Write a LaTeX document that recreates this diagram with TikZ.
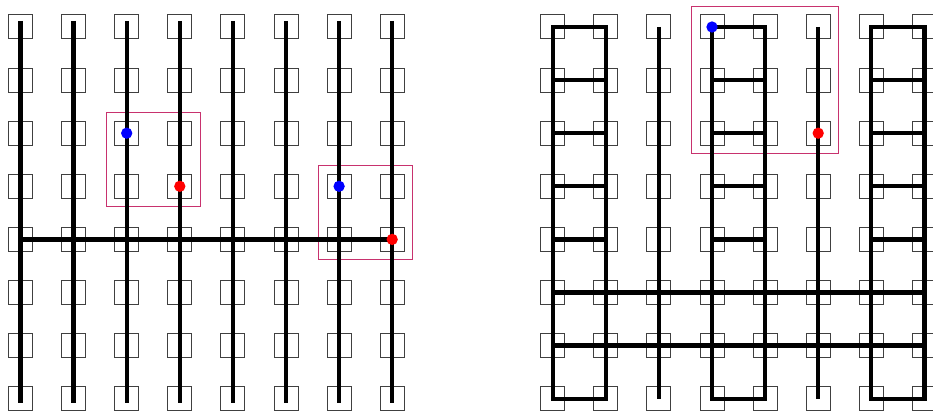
\documentclass[tikz,border=0pt]{standalone}
\usepackage{tikz}
\usetikzlibrary{fit}

\definecolor{boxpink}{RGB}{200,50,110}

\begin{document}
\begin{tikzpicture}[
  x=0.75pt, y=-0.75pt,
  cell/.style={draw=black!75, line width=0.75pt, minimum size=18pt, inner sep=0pt},
  wire/.style={draw=black, line width=3.2pt},
  hl/.style={draw=boxpink, line width=0.75pt, inner sep=6pt},
  dotb/.style={circle, fill=blue, inner sep=0pt, minimum size=8.5pt},
  dotr/.style={circle, fill=red, inner sep=0pt, minimum size=8.5pt}
]
\useasboundingbox (0,0) rectangle (933,416);

% ---- left grid of cells
\foreach \i in {0,...,7}
  \foreach \j in {0,...,7}
    \node[cell] (L-\i-\j) at ({20.5+53.1*\i},{27+53.1*\j}) {};

% ---- right grid of cells
\foreach \i in {0,...,7}
  \foreach \j in {0,...,7}
    \node[cell] (R-\i-\j) at ({552.7+53.1*\i},{27+53.1*\j}) {};

% ---- highlight boxes
\node[hl, fit=(L-2-2)(L-3-3)] (boxA) {};
\node[hl, fit=(L-6-3)(L-7-4)] (boxB) {};
\node[hl, fit=(R-3-0)(R-5-2)] (boxC) {};

% ---- left wiring: columns and one row
\foreach \i in {0,...,7}
  \draw[wire, shorten <=-4.5pt, shorten >=-3pt] (L-\i-0.center) -- (L-\i-7.center);
\draw[wire] (L-0-4.center) -- (L-7-4.center);

% ---- right wiring: ladders, single columns, two full rows
\foreach \a/\b in {0/1,3/4,6/7} {
  \draw[wire] (R-\a-0.center) rectangle (R-\b-7.center);
  \foreach \j in {1,...,4}
    \draw[wire] (R-\a-\j.center) -- (R-\b-\j.center);
}
\foreach \i in {2,5}
  \draw[wire] (R-\i-0.center) -- (R-\i-7.center);
\foreach \j in {5,6}
  \draw[wire, line cap=rect] (R-0-\j.center) -- (R-7-\j.center);

% ---- marked cells
\node[dotb] (bA) at (L-2-2) {};
\node[dotr] (rA) at (L-3-3) {};
\node[dotb] (bB) at (L-6-3) {};
\node[dotr] (rB) at (L-7-4) {};
\node[dotb] (bC) at (R-3-0) {};
\node[dotr] (rC) at (R-5-2) {};
\end{tikzpicture}
\end{document}
